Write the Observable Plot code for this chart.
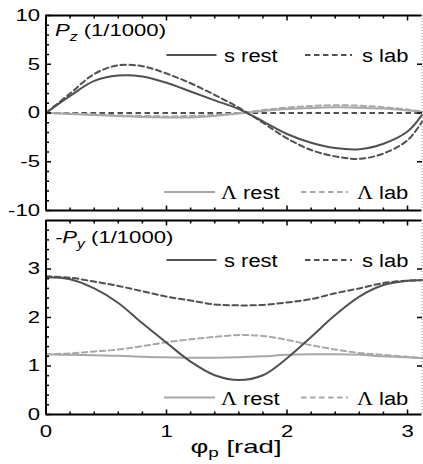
<!DOCTYPE html>
<html>
<head>
<meta charset="utf-8">
<script src="https://cdn.jsdelivr.net/npm/d3@7"></script>
<script src="https://cdn.jsdelivr.net/npm/@observablehq/plot@0.6"></script>
<style>
  html, body { margin: 0; padding: 0; background: #fff; }
  #chart svg { display: block; }
</style>
</head>
<body>
<div id="chart"></div>
<script>
// ---- data ----
const phi = [0, 0.2, 0.4, 0.6, 0.8, 1.0, 1.2, 1.4, 1.6, 1.8, 2.0, 2.2, 2.4, 2.6, 2.8, 3.0, 3.12];

// P_z (1/1000)
const pzSRest = [0, 1.75, 3.3, 3.85, 3.75, 3.1, 2.2, 1.3, 0.4, -0.85, -2.15, -3.05, -3.6, -3.72, -3.15, -1.9, -0.2];
const pzSLab  = [0, 2.0, 4.0, 4.9, 4.8, 4.05, 3.05, 1.85, 0.55, -1.0, -2.6, -3.8, -4.45, -4.7, -4.15, -2.8, -0.9];
const pzLRest = [0, -0.1, -0.2, -0.3, -0.4, -0.45, -0.45, -0.3, -0.05, 0.2, 0.4, 0.52, 0.58, 0.55, 0.45, 0.25, 0.1];
const pzLLab  = [0, -0.05, -0.15, -0.25, -0.3, -0.35, -0.3, -0.2, 0, 0.3, 0.55, 0.72, 0.8, 0.75, 0.6, 0.35, 0.15];

// -P_y (1/1000)
const pySRest = [2.83, 2.79, 2.6, 2.3, 1.88, 1.48, 1.09, 0.81, 0.71, 0.81, 1.16, 1.6, 2.05, 2.43, 2.67, 2.76, 2.77];
const pySLab  = [2.85, 2.82, 2.74, 2.65, 2.54, 2.43, 2.35, 2.27, 2.25, 2.26, 2.31, 2.38, 2.5, 2.6, 2.71, 2.76, 2.77];
const pyLRest = [1.24, 1.23, 1.22, 1.21, 1.19, 1.18, 1.17, 1.17, 1.18, 1.2, 1.23, 1.24, 1.24, 1.23, 1.2, 1.18, 1.16];
const pyLLab  = [1.24, 1.26, 1.3, 1.34, 1.41, 1.49, 1.55, 1.6, 1.64, 1.62, 1.54, 1.43, 1.34, 1.27, 1.23, 1.19, 1.17];

// ticks and domains
const xTicks  = [0, 1, 2, 3];
const pzTicks = [-10, -5, 0, 5, 10];
const pyTicks = [0, 1, 2, 3];
const xDomain  = [0, 3.12];
const pzDomain = [-10, 10];
const pyDomain = [0, 4];

const legendS = ["s rest", "s lab"];
const legendL = ["rest", "lab"];

// ---- styles ----
const DARK = "#505050", LIGHT = "#a8a8a8";
const DASH = "5.5,3.5";
const FONT = "'Liberation Sans', Arial, Helvetica, sans-serif";
const fmt = d => String(d);

const series = arr => phi.map((p, i) => ({phi: p, v: arr[i]}));
const lineMark = (arr, color, dashed) => Plot.line(series(arr), {
  x: "phi", y: "v", stroke: color, strokeWidth: 2,
  strokeDasharray: dashed ? DASH : undefined, curve: "catmull-rom"
});

function tickSym(dx, dy) {
  return {draw(ctx, size) { const l = Math.sqrt(size / Math.PI); ctx.moveTo(0, 0); ctx.lineTo(dx * l, dy * l); }};
}
function frameAndTicks(yDom, yMajor, yMinor) {
  const [y0, y1] = yDom, [x0, x1] = xDomain;
  const xMinor = d3.range(0, 3.1, 0.2).filter(v => Math.abs(v - Math.round(v)) > 1e-6);
  const tk = (data, x, y, sym, r) => Plot.dot(data, {x, y, symbol: sym, r, stroke: "black", strokeWidth: 1.5, fill: "none"});
  return [
    Plot.ruleX([x1], {stroke: "#888", strokeWidth: 1, strokeDasharray: "1,2"}),
    Plot.ruleY([y0, y1], {stroke: "black", strokeWidth: 2}),
    Plot.ruleX([x0], {stroke: "black", strokeWidth: 2}),
    tk(xTicks, d => d, () => y0, tickSym(0, -1), 5),
    tk(xMinor, d => d, () => y0, tickSym(0, -1), 3),
    tk(xTicks, d => d, () => y1, tickSym(0, 1), 5),
    tk(xMinor, d => d, () => y1, tickSym(0, 1), 3),
    tk(yMajor, () => x0, d => d, tickSym(1, 0), 5),
    tk(yMinor, () => x0, d => d, tickSym(1, 0), 3),
    tk(yMajor.filter(v => v > y0 && v < y1), () => x1, d => d, tickSym(-1, 0), 5)
  ];
}

const style = {fontFamily: FONT, fontSize: "16px", color: "black", background: "white", overflow: "visible"};

const topPlot = Plot.plot({
  width: 423, height: 218,
  marginLeft: 45.5, marginRight: 1.5, marginTop: 15, marginBottom: 8,
  x: {domain: xDomain, axis: null},
  y: {domain: pzDomain},
  style,
  marks: [
    Plot.ruleY([0], {stroke: DARK, strokeWidth: 2, strokeDasharray: DASH}),
    lineMark(pzLRest, LIGHT, false),
    lineMark(pzLLab, LIGHT, true),
    lineMark(pzSRest, DARK, false),
    lineMark(pzSLab, DARK, true),
    ...frameAndTicks(pzDomain, pzTicks, d3.range(-9, 10).filter(v => v % 5 !== 0)),
    Plot.axisY({ticks: pzTicks, tickFormat: fmt, tickSize: 0, tickPadding: 6, fontSize: 17, label: null})
  ]
});

const botPlot = Plot.plot({
  width: 423, height: 246,
  marginLeft: 45.5, marginRight: 1.5, marginTop: 2, marginBottom: 50,
  x: {domain: xDomain},
  y: {domain: pyDomain},
  style,
  marks: [
    lineMark(pyLRest, LIGHT, false),
    lineMark(pyLLab, LIGHT, true),
    lineMark(pySRest, DARK, false),
    lineMark(pySLab, DARK, true),
    ...frameAndTicks(pyDomain, pyTicks, d3.range(0.2, 4, 0.2).filter(v => Math.abs(v - Math.round(v)) > 1e-6)),
    Plot.axisY({ticks: pyTicks, tickFormat: fmt, tickSize: 0, tickPadding: 6, fontSize: 17, label: null}),
    Plot.axisX({ticks: xTicks, tickFormat: fmt, tickSize: 0, tickPadding: 10, fontSize: 17, label: null})
  ]
});

const chart = document.getElementById("chart");
chart.appendChild(topPlot);
chart.appendChild(botPlot);

// ---- annotations (panel labels, legends, axis label) ----
function panelLabel(svg, y, prefix, sub) {
  const t = d3.select(svg).append("text").attr("class", "panel-label")
    .attr("x", 55).attr("y", y).attr("text-anchor", "start")
    .attr("font-family", FONT).attr("font-size", 17).attr("fill", "black");
  if (prefix) t.append("tspan").attr("font-style", "italic").text(prefix);
  t.append("tspan").attr("font-style", "italic").text("P");
  t.append("tspan").attr("font-style", "italic").attr("font-size", 12).attr("dy", 5).text(sub);
  t.append("tspan").attr("dy", -5).text(" (1/1000)");
}
function legendRow(svg, yLine, color, items, greek) {
  const g = d3.select(svg).append("g");
  const xs = greek ? [[164, 215, 221], [301, 348, 357]] : [[166.5, 216.5, 224], [305, 352, 362]];
  items.forEach((lab, i) => {
    const [a, b, tx] = xs[i];
    g.append("line").attr("x1", a).attr("x2", b).attr("y1", yLine).attr("y2", yLine)
      .attr("stroke", color).attr("stroke-width", 2)
      .attr("stroke-dasharray", i === 1 ? DASH : null);
    const t = g.append("text").attr("class", "legend-text").attr("x", tx).attr("y", yLine + 7)
      .attr("text-anchor", "start")
      .attr("font-family", FONT).attr("font-size", 18).attr("fill", "black");
    if (greek) {
      t.append("tspan").attr("font-family", "'Liberation Serif', serif").text("Λ");
      t.append("tspan").text(" " + lab);
    } else {
      t.text(lab);
    }
  });
}
panelLabel(topPlot, 36, "", "z");
panelLabel(botPlot, 24.5, "-", "y");
legendRow(topPlot, 55, DARK, legendS, false);
legendRow(topPlot, 192, LIGHT, legendL, true);
legendRow(botPlot, 42, DARK, legendS, false);
legendRow(botPlot, 179.5, LIGHT, legendL, true);

const xl = d3.select(botPlot).append("text").attr("class", "x-label")
  .attr("x", 236).attr("y", 235).attr("text-anchor", "middle")
  .attr("font-family", FONT).attr("font-size", 19).attr("fill", "black");
xl.append("tspan").text("φ");
xl.append("tspan").attr("font-size", 13).attr("dy", 4).text("p");
xl.append("tspan").attr("dy", -4).text(" [rad]");

// horizontally widen text as in the reference
function stretch(svg, sel, k) {
  d3.select(svg).selectAll(sel).each(function () {
    const w = this.getComputedTextLength();
    if (w > 0) { this.setAttribute("textLength", w * k); this.setAttribute("lengthAdjust", "spacingAndGlyphs"); }
  });
}
for (const svg of [topPlot, botPlot]) {
  stretch(svg, "g[aria-label$='tick label'] text", 1.3);
  stretch(svg, "text.legend-text", 1.22);
  stretch(svg, "text.panel-label", 1.3);
  stretch(svg, "text.x-label", 1.45);
}
</script>
</body>
</html>
